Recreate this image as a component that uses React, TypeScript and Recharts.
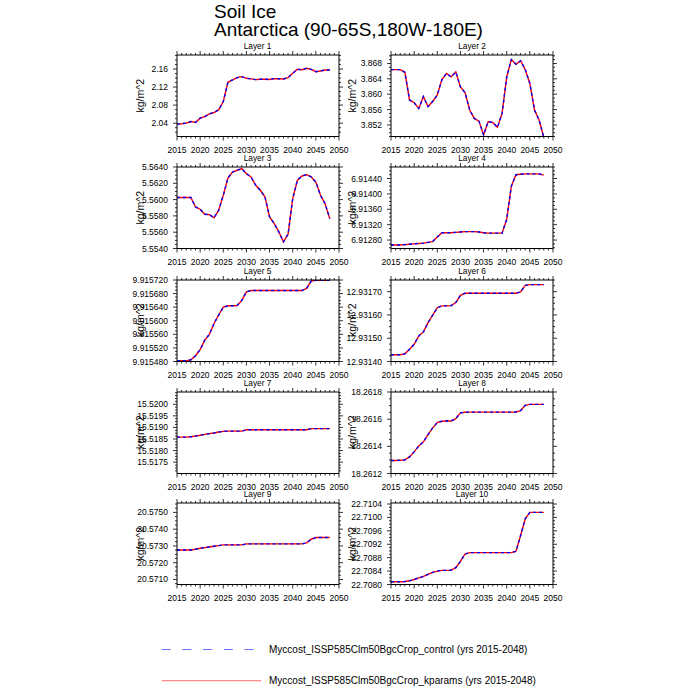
import { LineChart, Line, XAxis, YAxis } from "recharts";

const years = [
  2015, 2016, 2017, 2018, 2019, 2020, 2021, 2022, 2023, 2024, 2025, 2026,
  2027, 2028, 2029, 2030, 2031, 2032, 2033, 2034, 2035, 2036, 2037, 2038,
  2039, 2040, 2041, 2042, 2043, 2044, 2045, 2046, 2047, 2048,
];
const xMajor = [2015, 2020, 2025, 2030, 2035, 2040, 2045, 2050];

const layer1 = [2.0378, 2.0388, 2.0402, 2.0437, 2.0415, 2.051, 2.0547, 2.0606, 2.0636, 2.0694, 2.0878, 2.1306, 2.1357, 2.1409, 2.1431, 2.1394, 2.138, 2.1364, 2.1372, 2.1372, 2.1368, 2.1387, 2.1385, 2.138, 2.141, 2.1504, 2.1593, 2.1585, 2.1615, 2.1593, 2.1541, 2.1556, 2.1578, 2.1578];
const layer2 = [3.8664, 3.8664, 3.8664, 3.8657, 3.8585, 3.8578, 3.8563, 3.8594, 3.8568, 3.8581, 3.8598, 3.8638, 3.8654, 3.8645, 3.8658, 3.8619, 3.8604, 3.8559, 3.8537, 3.853, 3.8494, 3.8529, 3.8526, 3.8514, 3.855, 3.8645, 3.869, 3.8678, 3.8687, 3.8664, 3.8628, 3.8559, 3.8533, 3.8488];
const layer3 = [5.56025, 5.56025, 5.56025, 5.56025, 5.5591, 5.55882, 5.5582, 5.55816, 5.55776, 5.5587, 5.56053, 5.56265, 5.56339, 5.5636, 5.5638, 5.56318, 5.56278, 5.56176, 5.56114, 5.56033, 5.55788, 5.55706, 5.55604, 5.55482, 5.55576, 5.56012, 5.56237, 5.5629, 5.56306, 5.56278, 5.56216, 5.56053, 5.5595, 5.55767];
const layer4 = [6.91267, 6.91267, 6.91267, 6.91268, 6.91269, 6.9127, 6.91271, 6.91272, 6.91274, 6.91276, 6.91288, 6.91299, 6.91299, 6.91299, 6.913, 6.91301, 6.91302, 6.91302, 6.91302, 6.91301, 6.91299, 6.91298, 6.91298, 6.91298, 6.91298, 6.91334, 6.9142, 6.9145, 6.91451, 6.91452, 6.91452, 6.91452, 6.91452, 6.91449];
const layer5 = [9.915482, 9.915482, 9.915482, 9.915485, 9.915497, 9.915515, 9.915543, 9.91556, 9.915592, 9.915617, 9.91564, 9.915644, 9.915644, 9.915645, 9.91566, 9.915685, 9.915689, 9.915689, 9.915689, 9.915689, 9.915689, 9.915689, 9.915689, 9.915689, 9.915689, 9.915689, 9.915689, 9.915689, 9.915695, 9.915717, 9.915719, 9.915719, 9.915719, 9.915719];
const layer6 = [12.931429, 12.931429, 12.931429, 12.931433, 12.931453, 12.931474, 12.93151, 12.931527, 12.931567, 12.931599, 12.931631, 12.931639, 12.931639, 12.93164, 12.931653, 12.931684, 12.931693, 12.931693, 12.931693, 12.931693, 12.931693, 12.931693, 12.931693, 12.931693, 12.931693, 12.931693, 12.931693, 12.931693, 12.931699, 12.931727, 12.93173, 12.93173, 12.93173, 12.93173];
const layer7 = [15.51858, 15.51858, 15.51858, 15.5186, 15.51863, 15.51866, 15.5187, 15.51873, 15.51876, 15.5188, 15.51883, 15.51884, 15.51884, 15.51884, 15.51884, 15.5189, 15.5189, 15.5189, 15.5189, 15.5189, 15.5189, 15.5189, 15.5189, 15.5189, 15.5189, 15.5189, 15.5189, 15.5189, 15.5189, 15.51895, 15.51895, 15.51895, 15.51895, 15.51895];
const layer8 = [18.261296, 18.261296, 18.261298, 18.2613, 18.261322, 18.261359, 18.261403, 18.261433, 18.261487, 18.261536, 18.261575, 18.261585, 18.261587, 18.261587, 18.261604, 18.261646, 18.261651, 18.261652, 18.261652, 18.261652, 18.261652, 18.261652, 18.261652, 18.261652, 18.261652, 18.261652, 18.261652, 18.261653, 18.261663, 18.261702, 18.261709, 18.261709, 18.261709, 18.261709];
const layer9 = [20.57276, 20.57276, 20.57276, 20.57276, 20.5728, 20.57286, 20.5729, 20.57294, 20.57298, 20.57302, 20.57306, 20.57306, 20.57306, 20.57306, 20.57306, 20.57312, 20.57312, 20.57312, 20.57312, 20.57312, 20.57312, 20.57312, 20.57312, 20.57312, 20.57312, 20.57312, 20.57312, 20.57312, 20.57318, 20.5734, 20.5735, 20.5735, 20.5735, 20.5735];
const layer10 = [22.70808, 22.70808, 22.70808, 22.70809, 22.70811, 22.70815, 22.7082, 22.70824, 22.7083, 22.70836, 22.7084, 22.70842, 22.70842, 22.70843, 22.7085, 22.70869, 22.70891, 22.70895, 22.70895, 22.70895, 22.70895, 22.70895, 22.70895, 22.70895, 22.70895, 22.70895, 22.70895, 22.70899, 22.70946, 22.70996, 22.71015, 22.71015, 22.71015, 22.71015];

const ticks1 = [2.04, 2.08, 2.12, 2.16];
const ticks2 = [3.852, 3.856, 3.86, 3.864, 3.868];
const ticks3 = [5.554, 5.556, 5.558, 5.56, 5.562, 5.564];
const ticks4 = [6.9128, 6.9132, 6.9136, 6.914, 6.9144];
const ticks5 = [9.91548, 9.91552, 9.91556, 9.9156, 9.91564, 9.91568, 9.91572];
const ticks6 = [12.9314, 12.9315, 12.9316, 12.9317];
const ticks7 = [15.5175, 15.518, 15.5185, 15.519, 15.5195, 15.52];
const ticks8 = [18.2612, 18.2614, 18.2616, 18.2618];
const ticks9 = [20.571, 20.572, 20.573, 20.574, 20.575];
const ticks10 = [22.708, 22.7084, 22.7088, 22.7092, 22.7096, 22.71, 22.7104];

const panels = [
  { title: "Layer 1", values: layer1, domain: [2.0105, 2.191], major: ticks1, minor: 0.01, digits: 2 },
  { title: "Layer 2", values: layer2, domain: [3.849, 3.8702], major: ticks2, minor: 0.001, digits: 3 },
  { title: "Layer 3", values: layer3, domain: [5.554, 5.564], major: ticks3, minor: 0.0005, digits: 4 },
  { title: "Layer 4", values: layer4, domain: [6.91258, 6.9147], major: ticks4, minor: 0.0001, digits: 5 },
  { title: "Layer 5", values: layer5, domain: [9.91548, 9.91572], major: ticks5, minor: 0.00001, digits: 6 },
  { title: "Layer 6", values: layer6, domain: [12.9314, 12.93175], major: ticks6, minor: 0.000025, digits: 5 },
  { title: "Layer 7", values: layer7, domain: [15.51701, 15.52053], major: ticks7, minor: 0.000125, digits: 4 },
  { title: "Layer 8", values: layer8, domain: [18.2612, 18.2618], major: ticks8, minor: 0.00005, digits: 4 },
  { title: "Layer 9", values: layer9, domain: [20.5707, 20.57556], major: ticks9, minor: 0.00025, digits: 4 },
  { title: "Layer 10", values: layer10, domain: [22.708, 22.71043], major: ticks10, minor: 0.0001, digits: 4 },
];

const FONT = "'Liberation Sans', Arial, Helvetica, sans-serif";
const PW = 162;
const PH = 81.5;
const colX = [176.5, 391];
const rowY = [55, 167, 279.5, 391.5, 503];
const PL = 60;
const PR = 14;
const PT = 14;
const PB = 24;

const xAll: number[] = [];
for (let y = 2015; y <= 2050; y++) xAll.push(y);

function minorTicks(domain: number[], step: number) {
  const out: number[] = [];
  const k0 = Math.ceil(domain[0] / step - 1e-6);
  const k1 = Math.floor(domain[1] / step + 1e-6);
  for (let k = k0; k <= k1; k++) out.push(k * step);
  return out;
}

function makeTick(side: string, major: number[], eps: number, fmt?: (v: number) => string) {
  return (props: any) => {
    const { x, y, payload } = props;
    const v = payload.value;
    const isMajor = major.some((m) => Math.abs(m - v) < eps);
    const len = isMajor ? 4 : 2;
    let line;
    if (side === "bottom") line = <line x1={x} y1={y} x2={x} y2={y + len} stroke="#000" strokeWidth={0.8} />;
    else if (side === "top") line = <line x1={x} y1={y} x2={x} y2={y - len} stroke="#000" strokeWidth={0.8} />;
    else if (side === "left") line = <line x1={x} y1={y} x2={x - len} y2={y} stroke="#000" strokeWidth={0.8} />;
    else line = <line x1={x} y1={y} x2={x + len} y2={y} stroke="#000" strokeWidth={0.8} />;
    let label = null;
    if (isMajor && fmt && side === "bottom") {
      label = (
        <text x={x} y={y + 16} textAnchor="middle" fontSize={8.5} fontFamily={FONT} fill="#000">
          {fmt(v)}
        </text>
      );
    }
    if (isMajor && fmt && side === "left") {
      label = (
        <text x={x - 9} y={y + 3} textAnchor="end" fontSize={8.5} fontFamily={FONT} fill="#000">
          {fmt(v)}
        </text>
      );
    }
    return (
      <g>
        {line}
        {label}
      </g>
    );
  };
}

const xBottomTick = makeTick("bottom", xMajor, 0.01, (v) => String(v));
const xTopTick = makeTick("top", xMajor, 0.01);

function Panel({ p, i }: { p: (typeof panels)[number]; i: number }) {
  const col = i % 2;
  const row = Math.floor(i / 2);
  const rows = years.map((yr, k) => ({ year: yr, control: p.values[k], kparams: p.values[k] }));
  const yTicks = minorTicks(p.domain, p.minor);
  const eps = p.minor * 0.05;
  const yLeft = makeTick("left", p.major, eps, (v) => v.toFixed(p.digits));
  const yRight = makeTick("right", p.major, eps);
  return (
    <div style={{ position: "absolute", left: colX[col] - PL, top: rowY[row] - PT }}>
      <LineChart width={PL + PW + PR} height={PT + PH + PB} data={rows} margin={{ top: 0, right: 0, bottom: 0, left: 0 }}>
        <XAxis xAxisId="b" orientation="bottom" dataKey="year" type="number" domain={[2015, 2050]} ticks={xAll} interval={0} height={PB} tickSize={0} tickMargin={0} tickLine={false} tick={xBottomTick} axisLine={{ stroke: "#000" }} allowDataOverflow />
        <XAxis xAxisId="t" orientation="top" dataKey="year" type="number" domain={[2015, 2050]} ticks={xAll} interval={0} height={PT} tickSize={0} tickMargin={0} tickLine={false} tick={xTopTick} axisLine={{ stroke: "#000" }} allowDataOverflow />
        <YAxis yAxisId="l" orientation="left" type="number" domain={p.domain} ticks={yTicks} interval={0} width={PL} tickSize={0} tickMargin={0} tickLine={false} tick={yLeft} axisLine={{ stroke: "#000" }} allowDataOverflow />
        <YAxis yAxisId="r" orientation="right" type="number" domain={p.domain} ticks={yTicks} interval={0} width={PR} tickSize={0} tickMargin={0} tickLine={false} tick={yRight} axisLine={{ stroke: "#000" }} allowDataOverflow />
        <Line xAxisId="b" yAxisId="l" type="linear" dataKey="kparams" stroke="#ff0000" strokeWidth={1.4} dot={false} isAnimationActive={false} />
        <Line xAxisId="b" yAxisId="l" type="linear" dataKey="control" stroke="#0000ff" strokeWidth={1.4} strokeDasharray="3 3" dot={false} isAnimationActive={false} />
      </LineChart>
    </div>
  );
}

export default function App() {
  return (
    <div style={{ position: "absolute", left: 0, top: 0, width: 700, height: 700, background: "#fff" }}>
      {panels.map((p, i) => (
        <Panel key={p.title} p={p} i={i} />
      ))}
      <svg width={700} height={700} style={{ position: "absolute", left: 0, top: 0, pointerEvents: "none" }} fontFamily={FONT}>
        <text x={214} y={18.3} fontSize={19}>Soil Ice</text>
        <text x={214} y={36} fontSize={19}>Antarctica (90-65S,180W-180E)</text>
        {panels.map((p, i) => {
          const col = i % 2;
          const row = Math.floor(i / 2);
          const cx = colX[col] + PW / 2;
          const cy = rowY[row] + PH / 2;
          const lx = col === 0 ? 144 : 355.5;
          return (
            <g key={p.title}>
              <text x={cx} y={rowY[row] - 5.6} fontSize={8.3} textAnchor="middle">{p.title}</text>
              <text x={lx} y={cy} fontSize={10.5} textAnchor="middle" transform={`rotate(-90 ${lx} ${cy})`}>kg/m^2</text>
            </g>
          );
        })}
        <line x1={161.7} y1={649.5} x2={256} y2={649.5} stroke="#6f6fff" strokeWidth={1} strokeDasharray="9 11.7" />
        <text x={269} y={652.8} fontSize={10}>Myccost_ISSP585Clm50BgcCrop_control (yrs 2015-2048)</text>
        <line x1={161.7} y1={680.7} x2={261} y2={680.7} stroke="#ff7070" strokeWidth={1} />
        <text x={269} y={684.2} fontSize={10}>Myccost_ISSP585Clm50BgcCrop_kparams (yrs 2015-2048)</text>
      </svg>
    </div>
  );
}
